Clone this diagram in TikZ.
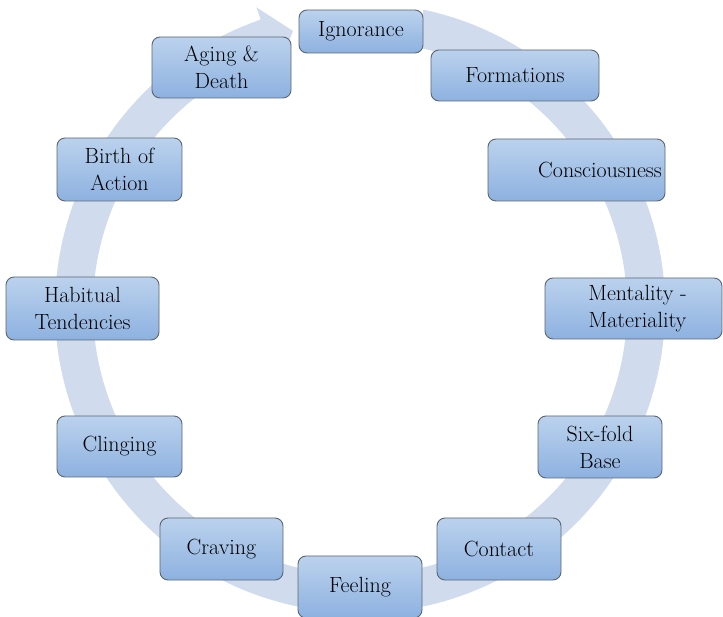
\documentclass[tikz,border=0pt]{standalone}
\definecolor{ringc}{RGB}{208,220,238}
\definecolor{boxtop}{RGB}{187,210,237}
\definecolor{boxbot}{RGB}{141,177,224}
\definecolor{boxline}{RGB}{92,102,114}
\begin{document}
\begin{tikzpicture}[x=1pt,y=1pt,
  box/.style={draw=boxline, line width=0.9pt, rounded corners=8pt,
    top color=boxtop, bottom color=boxbot, align=center,
    font=\fontsize{22}{27}\selectfont, inner sep=0pt, text=black},
  lbl/.style={align=center, font=\fontsize{22}{27}\selectfont, inner sep=0pt, text=black}]
\useasboundingbox (0,0) rectangle (723,616);
% circular arrow
\begin{scope}[shift={(360,308)}]
\fill[ringc] (78:305pt) arc[start angle=78,end angle=-251,radius=305pt]
  -- (-251:318pt) -- (-256.4:285pt) -- (-251:253pt) -- (-251:267pt)
  arc[start angle=-251,end angle=78,radius=267pt] -- cycle;
\end{scope}
% boxes
\node[box, minimum width=124pt, minimum height=43pt] (ign) at (361,584.5) {Ignorance};
\node[box, minimum width=139pt, minimum height=61pt] (aging) at (221.5,548.5) {Aging \&\\Death};
\node[box, minimum width=168pt, minimum height=51pt] (form) at (515,540.5) {Formations};
\node[box, minimum width=177pt, minimum height=62pt] (cons) at (576.5,446) {};
\node[lbl] (consT) at (600,446) {Consciousness};
\node[box, minimum width=177pt, minimum height=61pt] (ment) at (633.5,307.5) {};
\node[lbl] (mentT) at (637.5,307.5) {Mentality -\\Materiality};
\node[box, minimum width=124pt, minimum height=62pt] (six) at (600,169) {Six-fold\\Base};
\node[box, minimum width=124pt, minimum height=62pt] (contact) at (499,67) {Contact};
\node[box, minimum width=124pt, minimum height=62pt] (feel) at (360,29) {Feeling};
\node[box, minimum width=123pt, minimum height=62pt] (crav) at (221.5,67) {Craving};
\node[box, minimum width=125pt, minimum height=61pt] (cling) at (119.5,169.5) {Clinging};
\node[box, minimum width=153pt, minimum height=63pt] (hab) at (82.5,307.5) {Habitual\\Tendencies};
\node[box, minimum width=125pt, minimum height=63pt] (birth) at (119.5,446.5) {Birth of\\Action};
\end{tikzpicture}
\end{document}
